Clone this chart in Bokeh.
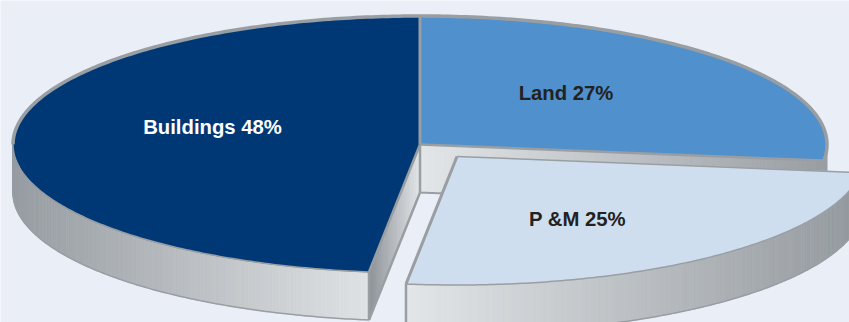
import numpy as np
from bokeh.core.properties import value
from bokeh.embed import file_html
from bokeh.models import Range1d
from bokeh.plotting import figure
from bokeh.resources import INLINE

# Shares of the pie, clockwise from twelve o'clock
names = ["Land", "P &M", "Buildings"]
shares = [27, 25, 48]
top_colors = ["#4f90cd", "#cedeef", "#003876"]
label_colors = ["#222222", "#222222", "#ffffff"]
label_pos = [(565.5, 92.5), (577, 218.5), (212, 126.5)]

BG = "#eaeef7"
EDGE = "#999ea3"
LIGHT = "#e3e6e8"
DARK = "#92989d"

W, H = 849, 322
CX, CY, RX, RY, DEPTH = 419.5, 144.0, 407.0, 128.5, 48.0
EXPLODE = {"P &M": (37.0, 12.0)}


def rim(theta, dx=0.0, dy=0.0):
    """Project clockwise-from-top angles (degrees) on to the tilted disc."""
    t = np.radians(theta)
    return CX + dx + RX * np.sin(t), CY + dy - RY * np.cos(t)


def mix(a, b, f):
    ca = np.array([int(a[i:i + 2], 16) for i in (1, 3, 5)])
    cb = np.array([int(b[i:i + 2], 16) for i in (1, 3, 5)])
    c = (ca + (cb - ca) * float(np.clip(f, 0, 1))).round().astype(int)
    return "#%02x%02x%02x" % tuple(c)


p = figure(width=W, height=H, output_backend="svg", toolbar_location=None,
           x_range=Range1d(0, W), y_range=Range1d(H, 0),
           min_border=0, background_fill_color=BG, border_fill_color=BG)
p.axis.visible = False
p.grid.visible = False
p.outline_line_color = None


def shaded_wall(xa, ya, color_a, color_b):
    """Fill a vertical wall under the polyline (xa, ya) with a sideways gradient."""
    xs, ys, cols = [], [], []
    span = xa[-1] - xa[0]
    for i in range(len(xa) - 1):
        xs.append([xa[i], xa[i + 1], xa[i + 1], xa[i]])
        ys.append([ya[i], ya[i + 1], ya[i + 1] + DEPTH, ya[i] + DEPTH])
        cols.append(mix(color_a, color_b, ((xa[i] + xa[i + 1]) / 2 - xa[0]) / span))
    p.patches(xs, ys, fill_color=cols, line_color=cols, line_width=0.8)


def edge(xa, ya, width=2.5):
    p.line(list(xa), list(ya), line_color=EDGE, line_width=width, line_join="round")


fractions = np.array(shares) / sum(shares) * 360
ends = np.cumsum(fractions)
starts = ends - fractions
spans = {n: (s, e) for n, s, e in zip(names, starts, ends)}

# Buildings: outer wall, then the cut face towards the gap
s, e = spans["Buildings"]
tb = np.linspace(270, s, 160)
xb, yb = rim(tb)
shaded_wall(xb, yb, "#969ca1", "#dfe2e4")
edge(xb, yb + DEPTH, 1.5)
bx, by = rim(s)
xf = np.linspace(bx, CX, 30)
yf = by + (CY - by) * (xf - bx) / (CX - bx)
shaded_wall(xf, yf, "#8b9196", "#e2e5e7")
edge([bx, bx], [by, by + DEPTH])
edge(xf, yf + DEPTH)

# Land: cut face facing the viewer, plus the sliver of outer wall past three o'clock
s, e = spans["Land"]
lx, ly = rim(e)
xf = np.linspace(CX, lx, 120)
yf = CY + (ly - CY) * (xf - CX) / (lx - CX)
shaded_wall(xf, yf, LIGHT, "#999ea3")
edge([CX, CX], [CY, CY + DEPTH])
edge(xf, yf + DEPTH, 2)
xs_, ys_ = rim(np.linspace(90, e, 12))
p.patch(list(xs_) + [lx, xs_[0]], list(ys_) + [ly + DEPTH, ys_[0] + DEPTH],
        fill_color=EDGE, line_color=EDGE)

# P &M: front wall of the pulled-out slice
s, e = spans["P &M"]
dx, dy = EXPLODE["P &M"]
tp = np.linspace(e, 90, 200)
xp, yp = rim(tp, dx, dy)
shaded_wall(xp, yp, LIGHT, DARK)
edge(xp, yp + DEPTH, 1.5)
edge([xp[0], xp[0]], [yp[0], yp[0] + DEPTH])

# Top faces without outlines; the rims follow so each stretch can carry its own weight
for name, color in zip(names, top_colors):
    s, e = spans[name]
    dx, dy = EXPLODE.get(name, (0.0, 0.0))
    x, y = rim(np.linspace(s, e, 240), dx, dy)
    p.patch([CX + dx, *x], [CY + dy, *y], fill_color=color, line_color=color, line_width=0.5)

# Rims: heavy along the far side of the disc, fine along the near side
s, e = spans["Buildings"]
edge(*rim(np.linspace(270, e, 120)), 3.5)
edge(*rim(np.linspace(s, 270, 120)), 1.5)
bx, by = rim(s)
edge([bx, CX], [by, CY], 2.5)

s, e = spans["Land"]
lx, ly = rim(e)
edge(*rim(np.linspace(s, e, 120)), 3.5)
edge([CX, CX], [CY, rim(0)[1]], 3)
edge([CX, lx], [CY, ly], 2.5)

s, e = spans["P &M"]
dx, dy = EXPLODE["P &M"]
ax, ay = rim(s, dx, dy)
fx, fy = rim(e, dx, dy)
edge(*rim(np.linspace(s, e, 160), dx, dy), 1.5)
edge([ax, CX + dx], [ay, CY + dy], 1.5)
edge([CX + dx, fx], [CY + dy, fy], 3)

# Labels
for name, share, col, (lbx, lby) in zip(names, shares, label_colors, label_pos):
    p.text([lbx], [lby], text=[f"{name} {share}%"], text_color=col,
           text_font=value("Liberation Sans"), text_font_style="bold",
           text_font_size="20.3px", text_align="center", text_baseline="middle")

open("out.html", "w").write(file_html(p, INLINE))
